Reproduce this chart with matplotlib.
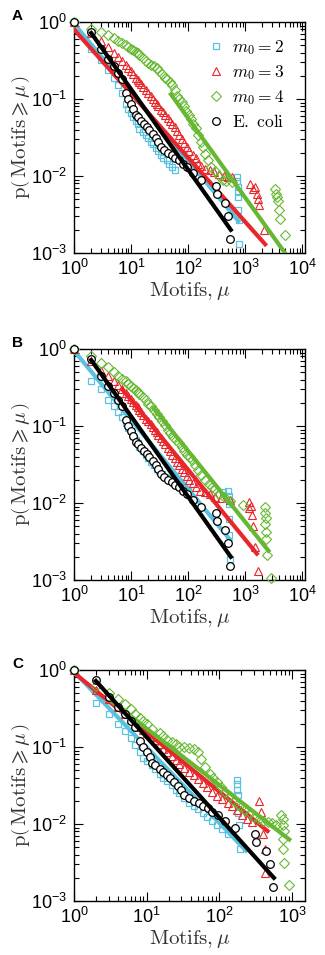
import matplotlib
matplotlib.use('Agg')
import matplotlib.pyplot as plt
from matplotlib.ticker import LogLocator, NullFormatter

plt.rcParams['font.family'] = ['Liberation Sans', 'DejaVu Sans']
plt.rcParams['mathtext.fontset'] = 'cm'

CYAN = '#58c2e0'
RED = '#e8262b'
GREEN = '#66b832'

# E. coli (same in every panel)
ecoli_x = [1, 2, 3, 4, 5, 6, 7, 8, 9, 10, 11, 12, 13, 15, 17, 19, 21, 24, 27, 30,
           33, 38, 45, 53, 60, 69, 80, 95, 120, 165, 310, 320, 440, 500, 550]
ecoli_y = [1.0, 0.75, 0.45, 0.33, 0.27, 0.22, 0.18, 0.12, 0.10, 0.085, 0.075, 0.062,
           0.058, 0.052, 0.047, 0.043, 0.040, 0.035, 0.031, 0.028, 0.024, 0.022, 0.020,
           0.019, 0.017, 0.016, 0.0145, 0.013, 0.011, 0.0089, 0.0075, 0.0059, 0.0045,
           0.0030, 0.0015]
ecoli_fit_x = [2, 560]
ecoli_fit_y = [0.72, 0.002]

# ---- panel A
a_m2_x = [1, 2, 3, 4, 5, 6, 7, 8, 9, 10, 11, 12, 13, 14, 16, 18, 20, 22, 24, 27, 30,
          33, 37, 42, 47, 53, 60, 715, 725, 735, 745, 750, 760, 770, 785]
a_m2_y = [1.0, 0.45, 0.32, 0.24, 0.19, 0.15, 0.12, 0.085, 0.075, 0.065, 0.058, 0.052,
          0.047, 0.041, 0.037, 0.034, 0.031, 0.028, 0.026, 0.023, 0.021, 0.019, 0.017,
          0.016, 0.0145, 0.013, 0.012, 0.0096, 0.0085, 0.0072, 0.0062, 0.0053, 0.0036,
          0.0027, 0.0013]
a_m3_x = [1, 2, 3, 4, 5, 6, 7, 8, 9, 10, 11, 12, 13, 14, 15, 16, 18, 20, 22, 24, 26,
          28, 30, 33, 36, 40, 44, 48, 53, 58, 64, 70, 78, 86, 95, 105, 120, 135, 150,
          170, 200, 240, 290, 350, 420, 500, 600, 1230, 1350, 1500, 1620, 1700, 1780, 2100]
a_m3_y = [1.0, 0.71, 0.57, 0.47, 0.40, 0.35, 0.31, 0.28, 0.25, 0.23, 0.21, 0.19, 0.175,
          0.165, 0.155, 0.145, 0.13, 0.12, 0.11, 0.10, 0.092, 0.086, 0.08, 0.073, 0.068,
          0.062, 0.057, 0.052, 0.047, 0.043, 0.038, 0.034, 0.030, 0.027, 0.024, 0.021,
          0.019, 0.017, 0.0145, 0.0135, 0.0125, 0.0118, 0.0112, 0.0105, 0.010, 0.0098,
          0.0096, 0.0079, 0.0068, 0.0072, 0.0058, 0.0050, 0.0042, 0.0020]
a_m4_x = [1, 2, 3, 4, 5, 6, 7, 8, 9, 10, 11, 12, 13, 14, 16, 18, 20, 22, 25, 28, 31,
          35, 39, 43, 48, 53, 58, 64, 70, 77, 85, 93, 102, 112, 123, 135, 150, 165,
          180, 198, 220, 257, 300, 350, 407, 470, 600, 3370, 3450, 3600, 3800, 3950,
          4100, 4900]
a_m4_y = [1.0, 0.82, 0.75, 0.68, 0.62, 0.57, 0.53, 0.50, 0.47, 0.45, 0.43, 0.41, 0.39,
          0.37, 0.34, 0.31, 0.29, 0.28, 0.27, 0.25, 0.23, 0.21, 0.19, 0.18, 0.165,
          0.15, 0.13, 0.11, 0.10, 0.092, 0.08, 0.07, 0.062, 0.055, 0.048, 0.042,
          0.034, 0.028, 0.024, 0.0194, 0.016, 0.013, 0.0115, 0.0100, 0.0088, 0.0086,
          0.0084, 0.0068, 0.0059, 0.0053, 0.0048, 0.0036, 0.0028, 0.0017]
a_fit_m2 = ([1, 760], [0.95, 0.0026])
a_fit_m3 = ([1, 2240], [0.80, 0.0013])
a_fit_m4 = ([50, 5000], [0.115, 0.001])

# ---- panel B
b_m2_x = [1, 2, 3, 4, 5, 6, 7, 8, 9, 10, 11, 12, 13, 14, 16, 18, 20, 22, 25, 28, 31,
          35, 40, 45, 50, 56, 63, 70, 80, 89, 100, 415, 510, 515, 520, 525, 530, 545]
b_m2_y = [1.0, 0.38, 0.30, 0.22, 0.18, 0.15, 0.13, 0.11, 0.095, 0.085, 0.075, 0.066,
          0.060, 0.054, 0.047, 0.042, 0.038, 0.034, 0.031, 0.028, 0.026, 0.024, 0.022,
          0.021, 0.0195, 0.018, 0.017, 0.016, 0.0152, 0.015, 0.0145, 0.0138, 0.0145,
          0.0125, 0.0098, 0.0062, 0.0038, 0.0019]
b_m3_x = [1, 2, 3, 4, 5, 6, 7, 8, 9, 10, 11, 12, 13, 14, 15, 16, 18, 20, 22, 24, 26,
          28, 30, 33, 36, 40, 44, 48, 53, 58, 64, 70, 78, 86, 95, 105, 120, 140, 160,
          195, 240, 300, 380, 550, 1150, 1180, 1250, 1300, 1350, 1500, 1650]
b_m3_y = [1.0, 0.70, 0.52, 0.44, 0.38, 0.34, 0.30, 0.27, 0.245, 0.225, 0.205, 0.19,
          0.175, 0.16, 0.15, 0.14, 0.125, 0.115, 0.105, 0.097, 0.09, 0.083, 0.077, 0.07,
          0.064, 0.058, 0.052, 0.047, 0.042, 0.038, 0.034, 0.031, 0.028, 0.025, 0.0225,
          0.020, 0.018, 0.016, 0.0145, 0.0138, 0.013, 0.012, 0.0115, 0.011, 0.0102,
          0.0085, 0.0092, 0.0069, 0.0051, 0.0027, 0.0013]
b_m4_x = [1, 2, 3, 4, 5, 6, 7, 8, 9, 10, 11, 12, 13, 14, 16, 18, 20, 22, 25, 28, 31,
          35, 39, 44, 49, 55, 62, 69, 77, 86, 96, 107, 117, 130, 150, 170, 195, 230,
          260, 295, 350, 420, 550, 930, 2240, 2260, 2300, 2260, 2300, 2350, 2400, 2800]
b_m4_y = [1.0, 0.80, 0.65, 0.58, 0.50, 0.45, 0.41, 0.38, 0.35, 0.33, 0.31, 0.29, 0.275,
          0.26, 0.235, 0.215, 0.195, 0.18, 0.16, 0.145, 0.13, 0.115, 0.102, 0.09, 0.08,
          0.071, 0.065, 0.060, 0.053, 0.047, 0.042, 0.039, 0.036, 0.031, 0.027, 0.023,
          0.020, 0.0175, 0.016, 0.015, 0.013, 0.0118, 0.0107, 0.0095, 0.0089, 0.0075,
          0.0063, 0.0053, 0.0042, 0.0034, 0.0021, 0.00105]
b_fit_m2 = ([1, 550], [0.95, 0.0033])
b_fit_m3 = ([7, 1600], [0.30, 0.0022])
b_fit_m4 = ([25, 2560], [0.17, 0.0024])

# ---- panel C
c_m2_x = [1, 2, 3, 4, 5, 6, 7, 8, 9, 10, 12, 13, 15, 17, 19, 22, 25, 28, 33, 38, 44,
          51, 59, 68, 80, 92, 110, 130, 172, 172, 175, 178, 182, 186, 194]
c_m2_y = [1.0, 0.37, 0.27, 0.2, 0.16, 0.13, 0.105, 0.085, 0.072, 0.065, 0.058, 0.052,
          0.045, 0.040, 0.036, 0.032, 0.028, 0.025, 0.022, 0.019, 0.017, 0.0155, 0.014,
          0.0125, 0.011, 0.0098, 0.0085, 0.0075, 0.0376, 0.033, 0.028, 0.024, 0.014,
          0.0098, 0.0047]
c_m3_x = [1, 2, 3, 4, 5, 6, 7, 8, 9, 10, 12, 13, 15, 17, 19, 22, 25, 28, 33, 38, 44,
          51, 59, 68, 80, 92, 110, 130, 150, 175, 205, 240, 280, 352, 372, 400, 427, 427]
c_m3_y = [1.0, 0.55, 0.42, 0.33, 0.27, 0.23, 0.2, 0.18, 0.165, 0.15, 0.135, 0.125, 0.11,
          0.095, 0.085, 0.077, 0.068, 0.061, 0.054, 0.048, 0.043, 0.038, 0.034, 0.03,
          0.026, 0.023, 0.021, 0.019, 0.017, 0.015, 0.013, 0.0115, 0.0105, 0.02, 0.0145,
          0.0074, 0.0048, 0.0023]
c_m4_x = [1, 2, 3, 4, 5, 6, 7, 8, 9, 10, 12, 15, 17, 19, 22, 25, 28, 33, 38, 44, 50,
          56, 64, 73, 82, 92, 105, 120, 140, 160, 180, 200, 225, 260, 300, 350, 400,
          460, 530, 600, 700, 740, 755, 780, 755, 755, 780, 890]
c_m4_y = [1.0, 0.62, 0.5, 0.42, 0.36, 0.31, 0.27, 0.24, 0.22, 0.2, 0.17, 0.15, 0.14,
          0.125, 0.115, 0.108, 0.1, 0.1, 0.098, 0.095, 0.085, 0.07, 0.055, 0.045, 0.04,
          0.035, 0.03, 0.026, 0.023, 0.02, 0.018, 0.0165, 0.0154, 0.014, 0.0125, 0.0115,
          0.011, 0.0105, 0.0102, 0.0098, 0.0132, 0.0115, 0.0098, 0.0081, 0.0064, 0.0047,
          0.0031, 0.0016]
c_fit_m2 = ([1, 232], [0.95, 0.0045])
c_fit_m3 = ([1, 458], [0.92, 0.0081])
c_fit_m4 = ([3, 910], [0.42, 0.0063])

panels = [
    ('A', a_m2_x, a_m2_y, a_m3_x, a_m3_y, a_m4_x, a_m4_y, a_fit_m2, a_fit_m3, a_fit_m4, 11200),
    ('B', b_m2_x, b_m2_y, b_m3_x, b_m3_y, b_m4_x, b_m4_y, b_fit_m2, b_fit_m3, b_fit_m4, 11200),
    ('C', c_m2_x, c_m2_y, c_m3_x, c_m3_y, c_m4_x, c_m4_y, c_fit_m2, c_fit_m3, c_fit_m4, 1500),
]
ax_tops = [22, 349, 670]
ax_h = 231

fig = plt.figure(figsize=(3.25, 9.55), dpi=100)

for (name, x2, y2, x3, y3, x4, y4, f2, f3, f4, xmax), top in zip(panels, ax_tops):
    ax = fig.add_axes([74 / 325, 1 - (top + ax_h) / 955, 231 / 325, ax_h / 955])
    ax.plot(x2, y2, ls='none', marker='s', ms=4.2, mfc='none', mec=CYAN, mew=0.9,
            clip_on=False, zorder=2, label=r'$m_0 = 2$')
    ax.plot(*f2, color=CYAN, lw=3, zorder=2.1)
    ax.plot(x3, y3, ls='none', marker='^', ms=6, mfc='none', mec=RED, mew=0.8,
            clip_on=False, zorder=3, label=r'$m_0 = 3$')
    ax.plot(*f3, color=RED, lw=3, zorder=3.1)
    ax.plot(x4, y4, ls='none', marker='D', ms=5, mfc='none', mec=GREEN, mew=0.8,
            clip_on=False, zorder=4, label=r'$m_0 = 4$')
    ax.plot(*f4, color=GREEN, lw=3, zorder=4.1)
    ax.plot(ecoli_x, ecoli_y, ls='none', marker='o', ms=5.5, mfc='white', mec='black',
            mew=0.9, clip_on=False, zorder=5, label=r'$\mathrm{E.\ coli}$')
    ax.plot(ecoli_fit_x, ecoli_fit_y, color='black', lw=3, zorder=5.1)

    ax.set_xscale('log')
    ax.set_yscale('log')
    ax.set_xlim(1, xmax)
    ax.set_ylim(1e-3, 1)
    ax.xaxis.set_major_locator(LogLocator(base=10, numticks=10))
    ax.xaxis.set_minor_locator(LogLocator(base=10, subs=range(2, 10), numticks=50))
    ax.yaxis.set_minor_locator(LogLocator(base=10, subs=range(2, 10), numticks=50))
    ax.xaxis.set_minor_formatter(NullFormatter())
    ax.yaxis.set_minor_formatter(NullFormatter())
    ax.tick_params(which='both', direction='in', top=True, right=True, width=0.8)
    ax.tick_params(which='major', length=6.5, labelsize=13)
    ax.tick_params(axis='x', which='major', pad=4.5)
    ax.tick_params(axis='y', which='major', pad=5)
    ax.tick_params(which='minor', length=3.5)
    for s in ax.spines.values():
        s.set_linewidth(1.0)
    ax.set_xlabel(r'$\mathrm{Motifs},\mu$', fontsize=15, color='#333333', labelpad=0.5)
    ax.set_ylabel(r'$\mathrm{p}\left(\,\mathrm{Motifs}\geqslant\mu\,\right)$',
                  fontsize=15, color='#333333', labelpad=-1)
    fig.text(12 / 325, 1 - (top - 6) / 955, name, fontsize=11, fontweight='bold',
             va='center', ha='left')
    if name == 'A':
        ax.legend(loc='upper right', bbox_to_anchor=(0.91, 0.93), frameon=False,
                  fontsize=12.5, handlelength=0.8, handletextpad=0.5, labelspacing=0.35,
                  borderaxespad=0, borderpad=0)

fig.savefig('out.png', dpi=100)
